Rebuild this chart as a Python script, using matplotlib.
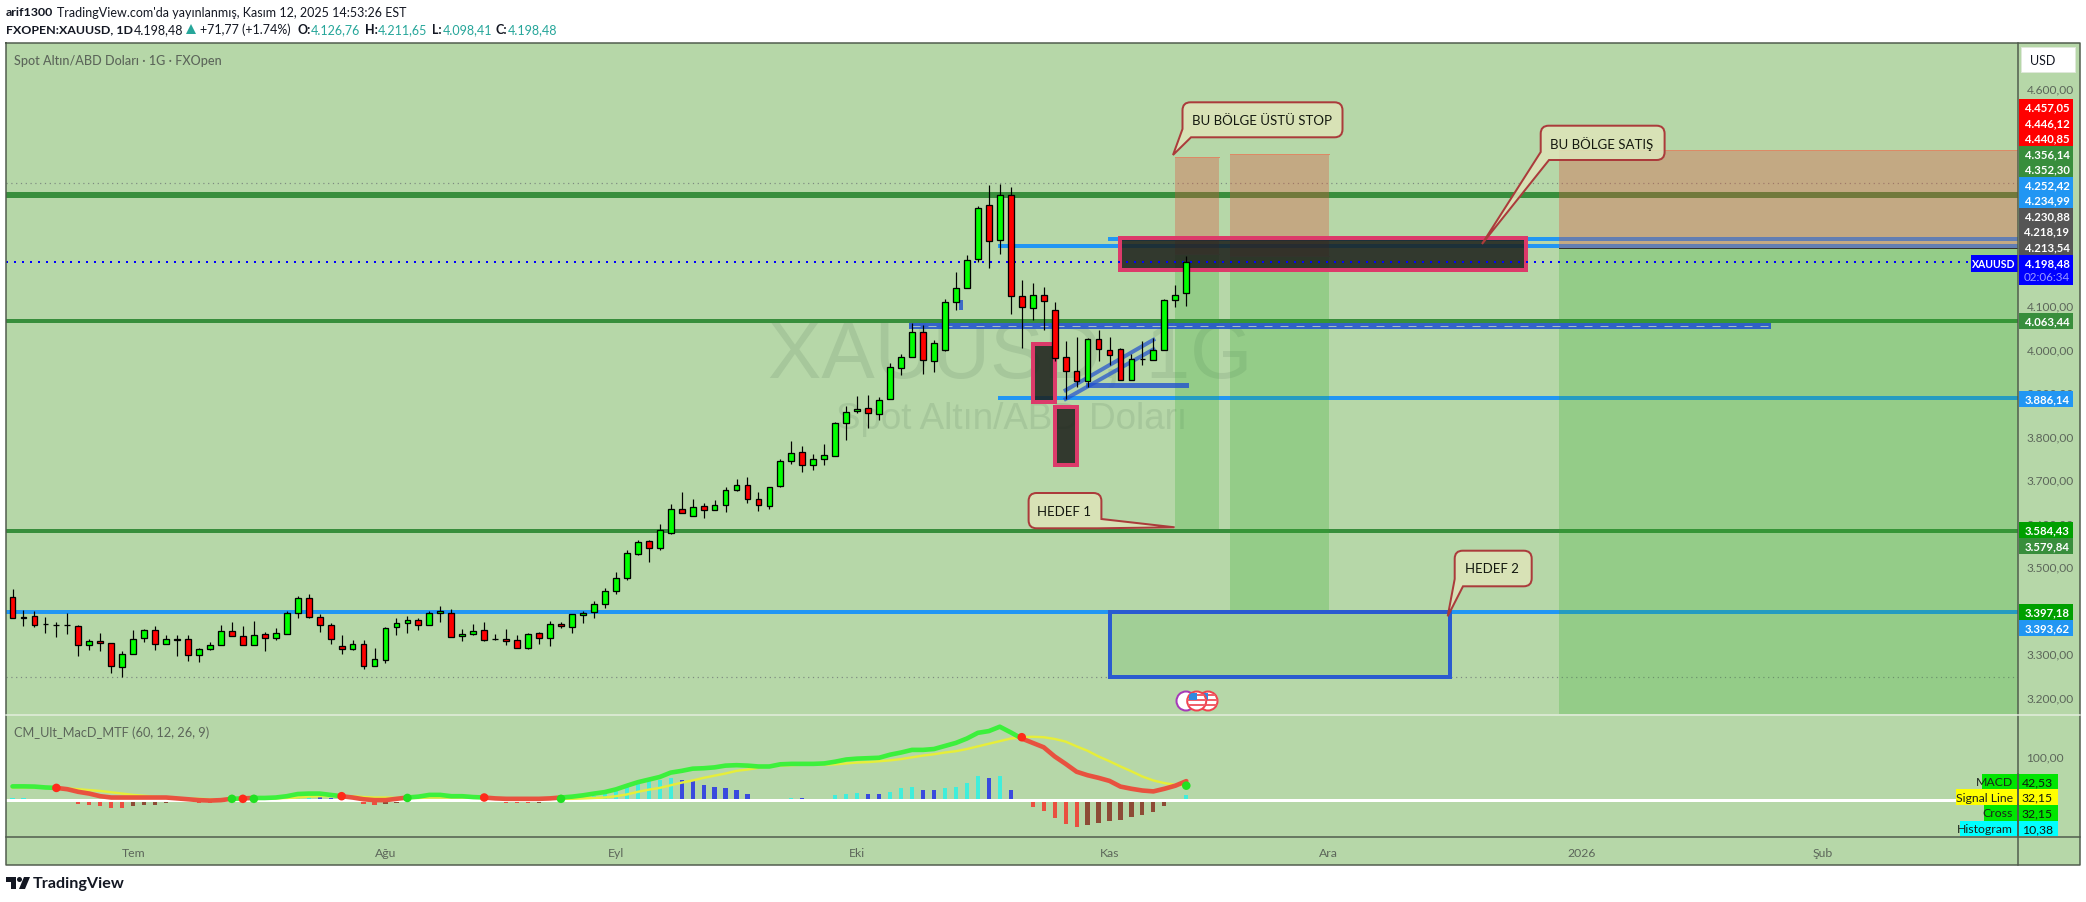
import numpy as np
import matplotlib
matplotlib.use("Agg")
import matplotlib.pyplot as plt
from matplotlib.patches import Rectangle, Circle, PathPatch, Polygon
from matplotlib.path import Path

plt.rcParams['font.family'] = ['Lato', 'DejaVu Sans']

W, H = 2086, 903

# daily candles, XAUUSD
opens = [3429.1,3383.1,3385.4,3367,3364.7,3365.5,3362.4,3318,3327.9,3323.3,
         3267.4,3297.3,3334.1,3353.2,3320.3,3332.5,3332.5,3295,3308.8,3318,
         3350.9,3339.4,3318,3344,3334.1,3343.3,3392.3,3426.8,3383.1,3364.7,
         3316.5,3308.8,3321,3269.7,3283.5,3359.4,3368.6,3376.2,3364,3391.5,
         3392.3,3338.7,3343.3,3353.2,3332.5,3332.5,3330.2,3311.1,3346.3,3334.1,
         3367,3359.4,3387.7,3393.8,3413,3442.1,3472.8,3527.2,3557.8,3540.9,
         3575.4,3631.4,3615.3,3638.3,3629.1,3640.6,3675,3686.5,3654.4,3637.5,
         3683.5,3741.7,3762.4,3731.8,3746.3,3753.2,3829.1,3856.7,3863.6,3849.8,
         3883.5,3954.8,3980.1,4038.3,3970.9,3996.2,4106.5,4139.5,4206.1,4330.3,
         4249.8,4353.3,4121.1,4092.7,4123.4,4088.9,3980.8,3948.6,3925.7,4022.2,
         3996.9,3999.2,3928,3977,3973.9,3996.9,4111.9,4126.76]
closes = [3380.1,3380.8,3364,3366.3,3364,3364.7,3318,3327.9,3322.6,3269.7,
          3298.1,3332.5,3353.2,3320.3,3332.5,3330.2,3295,3309.6,3318.7,3350.9,
          3338.7,3318,3341.7,3334.1,3346.3,3392.3,3426.8,3382.4,3364,3331.8,
          3308.8,3321,3269.7,3286.6,3357.8,3369.3,3376.2,3364,3392.3,3396.9,
          3336.4,3344,3350.9,3329.5,3331.8,3327.2,3311.1,3344,3334.1,3367,
          3361.7,3390,3392.3,3413,3442.9,3472.8,3530.2,3555.5,3540.9,3583.1,
          3631.4,3621.4,3636,3629.1,3640.6,3675,3686.5,3654.4,3640.6,3681.9,
          3741.7,3760.1,3731.8,3746.3,3755.5,3829.1,3854.4,3861.3,3852.1,3882,
          3957.9,3980.8,4038.3,3973.2,4013,4107.3,4139.5,4203.8,4323.4,4247.5,
          4353.3,4121.1,4095.8,4123.4,4109.6,3977.8,3947.9,3925.7,4022.2,3998.5,
          3985.4,3928,3975.5,3976.3,3996.9,4111.9,4123.4,4198.48]
highs = [3447.5,3400,3396.9,3383.1,3371.6,3392.3,3364.7,3332.5,3346.3,3323.3,
         3305,3354,3356.3,3362.4,3342.5,3341,3342.5,3311.1,3325.6,3365.5,
         3372.4,3363.2,3374.7,3347.9,3357.8,3396.1,3429.9,3436,3390,3369.3,
         3342.5,3331,3331,3312.6,3359.4,3380.8,3386.2,3381.6,3396.9,3406.9,
         3401.5,3355.5,3367.8,3372.4,3344.8,3356.3,3342.5,3346.3,3348.6,3373.9,
         3371.6,3390,3396.9,3419.9,3449.8,3486.6,3537.1,3560,3560.1,3597.7,
         3643.6,3670.5,3654.4,3645.2,3652.1,3681.9,3700.3,3704.9,3670.5,3681.9,
         3746.3,3788.5,3777,3757.8,3780.8,3831.4,3868.2,3891.2,3894.2,3888.9,
         3967,3987.7,4057.5,4054.4,4019.9,4114.2,4176.3,4215.3,4328,4377,
         4379.3,4371.7,4157.9,4151,4141.8,4107.3,4017.6,4026.8,4024.5,4042.9,
         4026.8,4001.5,3987.7,4017.6,4024.5,4114.2,4146.4,4211.65]
lows = [3380.1,3363.2,3359.4,3345.6,3337.9,3344.8,3292.7,3308,3305.7,3252.9,
        3243.7,3297.3,3324.9,3308,3320.3,3294.2,3282.7,3280.4,3306.5,3318,
        3338.7,3318,3318,3305.7,3329.5,3343.3,3380.1,3380.8,3349.4,3321.8,
        3298.8,3306.5,3264.3,3269.7,3278.1,3342.5,3347.1,3354,3364,3372.4,
        3336.4,3328.7,3341,3327.2,3329.5,3319.5,3311.1,3308.8,3321.8,3317.2,
        3357.1,3347.1,3370.1,3381.6,3402.3,3434.5,3467.4,3525.7,3508.8,3537.9,
        3573.1,3621.4,3615.3,3609.9,3629.1,3623.7,3672,3644.4,3626,3630.6,
        3681.2,3734,3715.7,3720.3,3731.8,3753.2,3790.8,3851.3,3816.8,3835.2,
        3883.5,3938.7,3980.1,3942.5,3945.6,3993.9,4088.1,4139.5,4198.5,4184.7,
        4216.9,4078.9,4000.8,4065.1,4042.1,3970.9,3884.3,3911.9,3911.9,3970.9,
        3961.7,3928,3928,3961.7,3973.9,3996.9,4095,4098.41]

# macd pane
macd = [30.5,30.5,30,28,27,24,18,14,8,5,5,5,5,5,5,3,1,-1,-2,-1,2,3,4,4,5,8,13,14,14,11,
        8,5,1,-1,-1,2,5,7,11,11,8,8,6,5,3,2,2,2,2,3,5,7,10,14,
        17.5,23.6,32,40,46,52,62,66,71,72,74,78,79,78,76,76,81,82,82,82,83,87,92,94,95,96,
        103,108,114,114,116,123,130,140,153,157,167,154,140,130,120,99,82,64,56,50,
        43,30,25,21,19,25,32,42.53]
signal = [28,28,28,27,27,26,24,22,20,17,14,11,9,7,5,4,2,2,1,1,2,2,2,2,3,4,5,7,8,8,
          8,8,6,5,5,4,4,4,5,5,5,5,5,5,4,3,2,2,2,2,2,2,3,4,
          5,8,12,18,23,27,33,39,44,50,55,60,66,69,73,76,78,79,80,80,80,81,83,85,86,88,
          90,93,97,101,104,108,111,116,122,128,134,140,143,144,143,139,133,122,112,99,
          88,76,65,53,44,38,34,32.15]
hist = [4,4,0,0,0,-6,-10,-12,-15,-18,-19,-15,-12,-11,-8,-6,-6,-8,-8,-6,-3,-2,0,0,3,6,7,8,7,5,
        -4,-6,-10,-12,-10,-8,0,0,2,2,2,0,0,-3,-5,-7,-8,-8,-7,-5,0,3,5,8,
        18,26,34,42,42.5,45,50,46,42,34,30,26,22,14,0,0,0,5,4,0,0,10,14,14.5,14,13.5,
        18,26,30,22,21.5,26,30,38,54,50,54,22,-5,-17,-26,-42,-56,-63,-58,-53,
        -49,-46,-40,-35,-28,-14,-5,10.38]
cross_bars = [4, 20, 21, 22, 30, 36, 43, 50, 92, 107]

# levels
green_levels = [4352.30, 4063.44, 3579.84]
blue_level = 3393.62
partial_start = [100, 90, 90]
partial_levels = [4252.42, 4234.99, 3886.14]
last_price = 4198.48
ath_level = 4380.0
low_level = 3245.0

# position zones: start bar, end bar, top, entry, bottom
zone_start = [106, 111, 141]
zone_end = [110, 120, 184]
zone_top = [4440.85, 4446.12, 4457.05]
zone_entry = [4218.19, 4213.54, 4230.88]
zone_bottom = [3584.43, 3397.18, 3160.0]

price_ticks = [4600, 4100, 4000, 3900, 3800, 3700, 3600, 3500, 3300, 3200]
month_bars = [11, 34, 55, 77, 100, 120, 143, 165]
month_names = ['Tem', 'Ağu', 'Eyl', 'Eki', 'Kas', 'Ara', '2026', 'Şub']

top_tags = ['4.457,05', '4.446,12', '4.440,85', '4.356,14', '4.352,30',
            '4.252,42', '4.234,99', '4.230,88', '4.218,19', '4.213,54']
top_colors = ['#ff0000', '#ff0000', '#ff0000', '#388e3c', '#388e3c',
              '#2196f3', '#2196f3', '#555555', '#555555', '#555555']
low_tags = ['4.063,44', '3.886,14', '3.584,43', '3.579,84', '3.397,18', '3.393,62']
low_colors = ['#388e3c', '#2196f3', '#00a000', '#388e3c', '#00a000', '#2196f3']
macd_names = ['MACD', 'Signal Line', 'Cross', 'Histogram']
macd_vals = ['42,53', '32,15', '32,15', '10,38']
macd_cols = ['#00e600', '#ffff00', '#00e600', '#00ffff']

BG = '#b6d7a8'
FRAME = '#4f5b4c'
GRAY = '#5c665a'
AX_L, AX_R, AX_T, SEP, MACD_B, BOTTOM, FRAME_R = 6, 2018, 44, 716, 838, 866, 2080
TAG_R = 2073


def px_box(x0, y0, x1, y1):
    return [x0/W, 1 - y1/H, (x1 - x0)/W, (y1 - y0)/H]


def lw(p):
    return p*0.72


fig = plt.figure(figsize=(W/100, H/100), dpi=100, facecolor='white')

# background layer, pixel coordinates
back = fig.add_axes([0, 0, 1, 1], zorder=0)
back.set_xlim(0, W)
back.set_ylim(H, 0)
back.axis('off')
back.add_patch(Rectangle((AX_L, AX_T), FRAME_R - AX_L, BOTTOM - AX_T, fc=BG, ec='none'))
back.text(1010, 358, 'XAUUSD, 1G', fontsize=57.6, color='#a6c79b', ha='center', va='center',
          family='Liberation Sans')
back.text(1012, 420, 'Spot Altın/ABD Doları', fontsize=26.5, color='#a6c79b', ha='center', va='center',
          family='Liberation Sans')

# price pane
ax = fig.add_axes(px_box(AX_L, AX_T, AX_R, SEP), zorder=1, facecolor='none')
x_left, x_right = (AX_L - 12.5)/10.97, (AX_R - 12.5)/10.97
ax.set_xlim(x_left, x_right)
ax.set_ylim(4600 - (SEP - 88.5)/0.435, 4600 + (88.5 - AX_T)/0.435)
for s in ax.spines.values():
    s.set_visible(False)
ax.set_xticks([])
ax.yaxis.tick_right()
ax.set_yticks(price_ticks)
ax.set_yticklabels([f"{v//1000}.{v%1000:03d},00" for v in price_ticks])
ax.tick_params(axis='y', length=0, pad=6, labelsize=8.6, labelcolor=GRAY)

ax.axhline(ath_level, color='#7d8a80', lw=lw(1.2), ls=(0, (1, 3)), zorder=1)
ax.axhline(low_level, color='#7d8a80', lw=lw(1.2), ls=(0, (1, 3)), zorder=1)
for lev, th in zip(green_levels, [6, 4, 4]):
    ax.axhline(lev, color='#388e3c', lw=lw(th), zorder=2)
ax.axhline(blue_level, color='#2196f3', lw=lw(4), zorder=2)
for st, lev in zip(partial_start, partial_levels):
    ax.plot([st, x_right + 1], [lev, lev], color='#2196f3', lw=lw(4), zorder=2)

# position zones
for a, b, t, e, bt in zip(zone_start, zone_end, zone_top, zone_entry, zone_bottom):
    ax.add_patch(Rectangle((a, e), b - a, t - e, fc='#dc543e', alpha=0.35, ec='none', zorder=3))
    ax.add_patch(Rectangle((a, bt), b - a, e - bt, fc='#32ac2c', alpha=0.25, ec='none', zorder=3))
    ax.plot([a, b], [t, t], color='#dc8a66', lw=lw(1), zorder=3)
    ax.plot([a, b], [e, e], color='#33332c', lw=lw(1), zorder=5)

# target box
ax.add_patch(Rectangle((100, low_level), 31, blue_level - low_level, fc=(0.3, 0.69, 0.31, 0.2),
                       ec='#2a5bd0', lw=lw(4), zorder=4))

# dark supply boxes
for x0, x1, y0, y1 in [(93, 95, 3877, 4010), (95, 97, 3733, 3865.5), (101, 138, 4181, 4253)]:
    ax.add_patch(Rectangle((x0, y0), x1 - x0, y1 - y0, fc=(0.11, 0.12, 0.10, 0.86),
                           ec='#dc3a6a', lw=lw(4), zorder=4))

# hand drawn blue trend lines
ax.plot([82, 160], [4051, 4051], color='#1f4fd0', alpha=0.85, lw=lw(6), zorder=4.5)
ax.plot([82, 160], [4051, 4051], color='#a4bcc4', lw=lw(1), ls=(0, (8, 8)), zorder=4.6)
ax.plot([98, 107], [3916, 3916], color='#1f4fd0', alpha=0.78, lw=lw(5), zorder=4.5)
ax.plot([96, 104], [3904, 4020], color='#1f4fd0', alpha=0.7, lw=lw(4), zorder=4.5)
ax.plot([96, 104], [3884, 3998], color='#1f4fd0', alpha=0.7, lw=lw(4), zorder=4.5)
ax.plot([86.5, 86.5], [4092, 4106], color='#1f4fd0', alpha=0.8, lw=lw(4), zorder=4.5)

ax.axhline(last_price, color='#0000ff', lw=lw(2), ls=(0, (1, 3)), zorder=5)

# candles
bars = np.arange(len(opens))
o, c, hi, lo = map(np.array, (opens, closes, highs, lows))
up = c >= o
ax.vlines(bars, lo, hi, color='black', lw=lw(1.2), zorder=6)
ax.bar(bars, np.abs(c - o), bottom=np.minimum(o, c), width=0.53,
       color=np.where(up, '#00ff00', '#ff0000'), edgecolor='black', linewidth=lw(1.3), zorder=7)

# macd pane
am = fig.add_axes(px_box(AX_L, SEP, AX_R, MACD_B), zorder=1, facecolor='none')
am.set_xlim(x_left, x_right)
am.set_ylim((800.7 - MACD_B)/0.437, (800.7 - SEP)/0.437)
for s in am.spines.values():
    s.set_visible(False)
am.yaxis.tick_right()
am.set_yticks([100])
am.set_yticklabels(['100,00'])
am.tick_params(axis='y', length=0, pad=6, labelsize=8.6, labelcolor=GRAY)
am.set_xticks(month_bars)
am.set_xticklabels(month_names)
am.tick_params(axis='x', length=0, pad=7, labelsize=8.8, labelcolor=GRAY)

hcol = []
for i, v in enumerate(hist):
    prev = hist[i - 1] if i else 0
    if v >= 0:
        hcol.append('#40eedb' if v >= prev else '#3a4ade')
    else:
        hcol.append('#ea4f3f' if v <= prev else '#8d4b36')
am.bar(bars, hist, width=0.38, color=hcol, zorder=2)
am.axhline(0, color='white', lw=lw(3), zorder=3)
am.plot(bars, signal, color='#e6ee3a', lw=lw(2.4), zorder=4)

# macd colour flips at every cross
edges = [0] + cross_bars
for k in range(len(edges) - 1):
    a, b = edges[k], edges[k + 1]
    am.plot(bars[a:b + 1], macd[a:b + 1], color='#3cf03c' if k % 2 == 0 else '#e8523f',
            lw=lw(4.6), solid_capstyle='round', zorder=5)
cross_col = ['#ff2a1a' if k % 2 == 0 else '#22e022' for k in range(len(cross_bars))]
am.scatter(cross_bars, [signal[b] for b in cross_bars], s=38, c=cross_col, linewidths=0, zorder=6)

# overlay, pixel coordinates
ov = fig.add_axes([0, 0, 1, 1], zorder=2, facecolor='none')
ov.set_xlim(0, W)
ov.set_ylim(H, 0)
ov.axis('off')

# frame
ov.plot([AX_L, FRAME_R, FRAME_R, AX_L, AX_L], [AX_T, AX_T, BOTTOM, BOTTOM, AX_T], color=FRAME, lw=lw(1.5))
ov.plot([AX_R, AX_R], [AX_T, BOTTOM], color=FRAME, lw=lw(1.5))
ov.plot([AX_L, FRAME_R], [MACD_B, MACD_B], color=FRAME, lw=lw(1.5))
ov.plot([AX_L, FRAME_R], [SEP, SEP], color='#e4eede', lw=lw(1.5))

# header
INK = '#131722'
ov.text(6, 13, 'arif1300', fontsize=8.9, weight='bold', color=INK, va='center')
ov.text(57, 13, "TradingView.com'da yayınlanmış, Kasım 12, 2025 14:53:26 EST", fontsize=9.0, color=INK, va='center')
ov.text(6, 30, 'FXOPEN:XAUUSD, 1D', fontsize=8.9, weight='bold', color=INK, va='center')
ov.text(134, 30, '4.198,48', fontsize=9.0, color=INK, va='center')
ov.add_patch(Polygon([(186, 35), (196, 35), (191, 25)], fc='#26a69a', ec='none'))
ov.text(200, 30, '+71,77 (+1.74%)', fontsize=9.0, color=INK, va='center')
for x1, key, x2, val in [(298, 'O:', 311, '4.126,76'), (365, 'H:', 378, '4.211,65'),
                         (432, 'L:', 443, '4.098,41'), (496, 'C:', 508, '4.198,48')]:
    ov.text(x1, 30, key, fontsize=9.0, weight='bold', color=INK, va='center')
    ov.text(x2, 30, val, fontsize=9.0, color='#26a69a', va='center')
ov.text(14, 61, 'Spot Altın/ABD Doları · 1G · FXOpen', fontsize=9.1, weight='medium', color=GRAY, va='center')
ov.text(14, 732.5, 'CM_Ult_MacD_MTF (60, 12, 26, 9)', fontsize=9.2, color=GRAY, va='center')

# USD box
ov.add_patch(Rectangle((2021, 48), 54, 25, fc='white', ec='#dfe8da', lw=lw(1)))
ov.text(2030, 61, 'USD', fontsize=9, color=INK, va='center')


def tag(y, text, color, txt='white'):
    ov.add_patch(Rectangle((AX_R + 1, y - 8), TAG_R - AX_R - 1, 16, fc=color, ec='none'))
    ov.text(2047, y, text, fontsize=8.2, weight='bold', color=txt, ha='center', va='center')


for k, (t, col) in enumerate(zip(top_tags, top_colors)):
    tag(108.3 + 15.5*k, t, col)
for y, t, col in zip([322, 400, 531, 547, 613, 628.5], low_tags, low_colors):
    tag(y, t, col)

# last price block
ov.add_patch(Rectangle((1971, 256), AX_R - 1971, 17, fc='#0000ff', ec='none'))
ov.text(1993.5, 264.5, 'XAUUSD', fontsize=7.6, weight='bold', color='white', ha='center', va='center')
ov.add_patch(Rectangle((AX_R + 1, 256), TAG_R - AX_R - 1, 30, fc='#0000ff', ec='none'))
ov.text(2047, 264, '4.198,48', fontsize=8.2, weight='bold', color='white', ha='center', va='center')
ov.text(2047, 277.5, '02:06:34', fontsize=8.4, color='#9a9aff', ha='center', va='center')

# macd tags
for k, (name, val, col) in enumerate(zip(macd_names, macd_vals, macd_cols)):
    y = 782.5 + 15.7*k
    left = [1982, 1956, 1984, 1960][k]
    ov.add_patch(Rectangle((left, y - 7.9), 2058 - left, 15.8, fc=col, ec='none'))
    ov.plot([AX_R, AX_R], [y - 7.9, y + 7.9], color=FRAME, lw=lw(1.5))
    ov.text(2013, y, name, fontsize=8.8, color='#1c241c', ha='right', va='center')
    ov.text(2053, y, val, fontsize=8.8, color='#101810', ha='right', va='center')


def callout(x0, y0, x1, y1, corner, ya, tip, xb, text):
    r = 8
    M, L, Q, Z = Path.MOVETO, Path.LINETO, Path.CURVE3, Path.CLOSEPOLY
    v = [(x0 + r, y0), (x1 - r, y0), (x1, y0), (x1, y0 + r)]
    k = [M, L, Q, Q]
    if corner == 'br':
        v += [(x1, ya), tip, (xb, y1)]
        k += [L, L, L]
    else:
        v += [(x1, y1 - r), (x1, y1), (x1 - r, y1)]
        k += [L, Q, Q]
    if corner == 'bl':
        v += [(xb, y1), tip, (x0, ya)]
        k += [L, L, L]
    else:
        v += [(x0 + r, y1), (x0, y1), (x0, y1 - r)]
        k += [L, Q, Q]
    v += [(x0, y0 + r), (x0, y0), (x0 + r, y0), (x0 + r, y0)]
    k += [L, Q, Q, Z]
    ov.add_patch(PathPatch(Path(v, k), fc=(0.867, 0.894, 0.725, 0.88), ec='#ab3b3b', lw=lw(2)))
    ov.text((x0 + x1)/2 - 1, (y0 + y1)/2, text, fontsize=9.5, color='#14180f', ha='center', va='center')


callout(1182.5, 103.3, 1342.5, 138.3, 'bl', 130, (1173, 156), 1191, 'BU BÖLGE ÜSTÜ STOP')
callout(1540.7, 126.7, 1664.6, 161, 'bl', 153, (1482, 245), 1549, 'BU BÖLGE SATIŞ')
callout(1028.6, 494, 1101.4, 529.3, 'br', 520, (1174.6, 528.3), 1098, 'HEDEF 1')
callout(1454.7, 551.7, 1531.7, 587.3, 'bl', 580, (1447.7, 617.3), 1463, 'HEDEF 2')

# economic event icons
c0 = Circle((1186, 702), 9.5, fc='white', ec='#a63ab8', lw=lw(2))
ov.add_patch(c0)
for cx in (1208, 1196.7):
    disc = Circle((cx, 702), 9.5, fc='white', ec='#f0434f', lw=lw(2))
    ov.add_patch(disc)
    for sy in (695, 700, 705):
        st = Rectangle((cx - 10, sy), 20, 2.4, fc='#f0606a', ec='none')
        ov.add_patch(st)
        st.set_clip_path(disc)
    sq = Rectangle((cx - 8, 694), 8, 6.5, fc='#2f8ae0', ec='none')
    ov.add_patch(sq)
    sq.set_clip_path(disc)

# logo
ov.add_patch(Polygon([(6, 878), (16, 878), (16, 890), (11, 890), (11, 883), (6, 883)], fc=INK, ec='none'))
ov.add_patch(Circle((19.5, 880.5), 2.5, fc=INK, ec='none'))
ov.add_patch(Polygon([(24, 878), (30, 878), (25, 890), (19, 890)], fc=INK, ec='none'))
ov.text(33, 884.5, 'TradingView', fontsize=11.6, weight='bold', color=INK, va='center')

fig.savefig('out.png', dpi=100)
